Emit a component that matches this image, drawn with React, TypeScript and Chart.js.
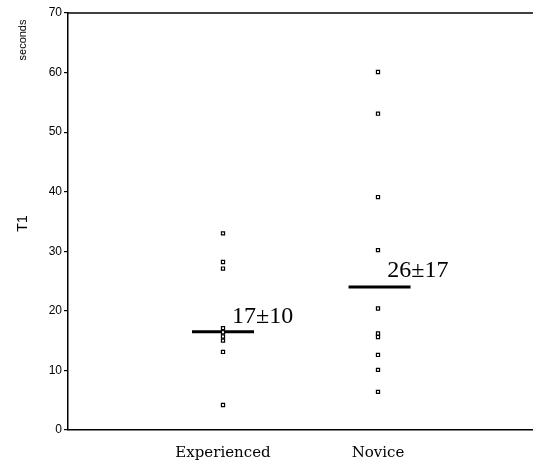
import React, { useEffect, useRef } from 'react';
import { Chart, registerables } from 'chart.js';

Chart.register(...registerables);

const categories = ['Experienced', 'Novice'];
const categoryPositions = [1, 2];
const experiencedValues = [33, 28.2, 27.1, 17.1, 16.4, 15.7, 15.0, 13.1, 4.2];
const noviceValues = [60.1, 53.1, 39.1, 30.2, 20.4, 16.2, 15.6, 12.6, 10.1, 6.4];
const meanValues = [16.5, 24];
const meanStart = [0.8, 1.81];
const meanEnd = [1.2, 2.21];
const meanLabels = ['17\u00b110', '26\u00b117'];
const meanLabelX = [1.058, 2.06];
const meanLabelY = [19.0, 26.8];
const yTicks = [0, 10, 20, 30, 40, 50, 60, 70];
const yTitle = 'T1';
const yUnit = 'seconds';

const decorPlugin = {
  id: 'decor',
  afterDraw(chart: any) {
    const { ctx, chartArea, scales } = chart;
    const xs = scales.x;
    const ys = scales.y;
    ctx.save();
    ctx.strokeStyle = '#000';
    ctx.lineWidth = 1.5;
    ctx.beginPath();
    ctx.moveTo(chartArea.left, chartArea.top);
    ctx.lineTo(chartArea.right, chartArea.top);
    ctx.stroke();
    ctx.fillStyle = '#000';
    ctx.font = '24px "Liberation Serif"';
    ctx.textAlign = 'left';
    ctx.textBaseline = 'middle';
    meanLabels.forEach((t, i) => {
      ctx.fillText(t, xs.getPixelForValue(meanLabelX[i]), ys.getPixelForValue(meanLabelY[i]));
    });
    ctx.textAlign = 'center';
    ctx.textBaseline = 'middle';
    ctx.translate(23, 0);
    ctx.rotate(-Math.PI / 2);
    ctx.font = '11px "Liberation Sans"';
    ctx.fillText(yUnit, -40, 0);
    ctx.font = '14px "Liberation Sans"';
    ctx.fillText(yTitle, -(chartArea.top + chartArea.bottom) / 2 - 2, 0);
    ctx.restore();
  },
};

export default function App() {
  const ref = useRef<HTMLCanvasElement>(null);
  useEffect(() => {
    document.body.style.margin = '0';
    const canvas = ref.current!;
    const pointStyle = {
      pointStyle: 'rect' as const,
      pointRadius: 2.2,
      pointBorderWidth: 1.2,
      pointBorderColor: '#000',
      pointBackgroundColor: '#fff',
      showLine: false,
    };
    const datasets: any[] = [
      {
        type: 'scatter',
        data: experiencedValues.map((v) => ({ x: categoryPositions[0], y: v })),
        ...pointStyle,
      },
      {
        type: 'scatter',
        data: noviceValues.map((v) => ({ x: categoryPositions[1], y: v })),
        ...pointStyle,
      },
    ];
    meanValues.forEach((m, i) => {
      datasets.push({
        type: 'line',
        data: [
          { x: meanStart[i], y: m },
          { x: meanEnd[i], y: m },
        ],
        borderColor: '#000',
        borderWidth: 3,
        pointRadius: 0,
      });
    });
    const chart = new Chart(canvas, {
      type: 'scatter',
      data: { datasets },
      options: {
        animation: false,
        responsive: false,
        maintainAspectRatio: false,
        layout: { autoPadding: false, padding: { top: 13, right: 0, left: 0, bottom: 0 } },
        plugins: { legend: { display: false }, tooltip: { enabled: false } },
        scales: {
          x: {
            type: 'linear',
            min: 0,
            max: 3,
            afterFit: (s: any) => {
              s.height = 36;
              s.paddingRight = 0;
              s.paddingLeft = 0;
            },
            afterBuildTicks: (s: any) => {
              s.ticks = [0, 1, 2, 3].map((v) => ({ value: v }));
            },
            grid: { display: false },
            border: { display: true, color: '#000', width: 1.5 },
            ticks: {
              padding: 6,
              color: '#000',
              font: { family: '"DejaVu Serif"', size: 15 },
              maxRotation: 0,
              autoSkip: false,
              callback: (v: any) => {
                const idx = categoryPositions.indexOf(Number(v));
                return idx >= 0 ? categories[idx] : '';
              },
            },
          },
          y: {
            type: 'linear',
            min: 0,
            max: 70,
            afterFit: (s: any) => {
              s.width = 68;
            },
            afterBuildTicks: (s: any) => {
              s.ticks = yTicks.map((v) => ({ value: v }));
            },
            grid: {
              drawOnChartArea: false,
              drawTicks: true,
              tickLength: 4,
              color: '#000',
              lineWidth: 1.2,
            },
            border: { display: true, color: '#000', width: 1.5 },
            ticks: {
              padding: 2,
              color: '#000',
              font: { family: '"Liberation Sans"', size: 12 },
            },
          },
        },
      },
      plugins: [decorPlugin],
    });
    return () => chart.destroy();
  }, []);
  return <canvas ref={ref} width={533} height={466} style={{ display: 'block' }} />;
}
